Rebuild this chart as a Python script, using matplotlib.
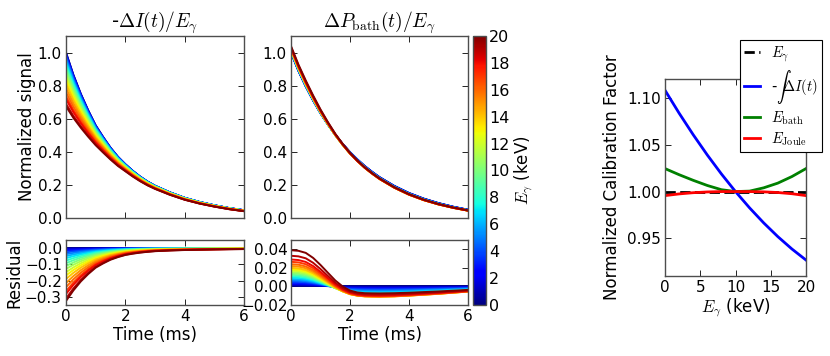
import numpy as np
import matplotlib
matplotlib.use("Agg")
import matplotlib.pyplot as plt
from matplotlib.cm import ScalarMappable
from matplotlib.colors import Normalize

# =========================
# データ
# =========================
energies_kev = [0, 1, 2, 3, 4, 5, 6, 7, 8, 9, 10,
                11, 12, 13, 14, 15, 16, 17, 18, 19, 20]

time_ms = [0.0, 0.25, 0.5, 0.75, 1.0, 1.25, 1.5, 1.75, 2.0, 2.25, 2.5,
           2.75, 3.0, 3.5, 4.0, 4.5, 5.0, 5.5, 6.0]

# -dI(t)/E : E=0 のパルス形状
di_base = [1.00, 0.865, 0.75, 0.65, 0.56, 0.49, 0.425, 0.37, 0.325, 0.285, 0.25,
           0.22, 0.195, 0.155, 0.122, 0.097, 0.077, 0.06, 0.047]
# 残差の時間形状 (t=0 で 1 に規格化)
di_resid_shape = [1.0, 0.80, 0.63, 0.49, 0.37, 0.29, 0.22, 0.17, 0.13, 0.105, 0.085,
                  0.07, 0.058, 0.045, 0.036, 0.03, 0.025, 0.021, 0.018]
# 各エネルギーでの t=0 の残差
di_resid_t0 = [0.0, -0.003, -0.009, -0.017, -0.026, -0.037, -0.049, -0.062, -0.077, -0.093, -0.110,
               -0.128, -0.148, -0.168, -0.190, -0.215, -0.240, -0.265, -0.282, -0.310, -0.325]

# dP_bath(t)/E : E=0 のパルス形状
pb_base = [1.0, 0.89, 0.795, 0.71, 0.633, 0.565, 0.503, 0.448, 0.398, 0.354, 0.314,
           0.279, 0.247, 0.194, 0.151, 0.117, 0.09, 0.068, 0.05]
# 残差: 初期の正の山と後半の負の谷
pb_hump_shape = [1.0, 0.99, 0.95, 0.83, 0.66, 0.47, 0.28, 0.14, 0.05, 0.01, 0.0,
                 0.0, 0.0, 0.0, 0.0, 0.0, 0.0, 0.0, 0.0]
pb_dip_shape = [0.0, 0.03, 0.12, 0.22, 0.35, 0.48, 0.60, 0.73, 0.85, 0.92, 0.97,
                0.99, 1.0, 0.97, 0.90, 0.81, 0.72, 0.61, 0.50]
pb_hump_t0 = [0.0, 0.0012, 0.0025, 0.0038, 0.0052, 0.0066, 0.008, 0.0095, 0.011, 0.0125, 0.014,
              0.0155, 0.017, 0.0185, 0.020, 0.022, 0.024, 0.0265, 0.029, 0.033, 0.039]
pb_dip_min = [0.0, -0.0005, -0.0015, -0.0025, -0.0035, -0.0047, -0.0058, -0.0068, -0.0078, -0.0087, -0.0094,
              -0.0100, -0.0105, -0.0108, -0.0110, -0.0110, -0.0108, -0.0104, -0.0098, -0.0088, -0.0075]

# 校正係数
calib_energy = [0, 2, 4, 6, 8, 10, 12, 14, 16, 18, 20]
calib_egamma = [1.0, 1.0, 1.0, 1.0, 1.0, 1.0, 1.0, 1.0, 1.0, 1.0, 1.0]
calib_int_di = [1.108, 1.0836, 1.0606, 1.039, 1.0188, 1.0, 0.9826, 0.9666, 0.952, 0.9388, 0.927]
calib_bath = [1.0245, 1.018, 1.012, 1.0065, 1.002, 1.0, 1.0005, 1.004, 1.009, 1.016, 1.0245]
calib_joule = [0.9957, 0.9975, 0.9988, 0.9996, 1.0, 1.0, 1.0, 0.9997, 0.999, 0.9977, 0.9957]

# =========================
# スタイル
# =========================
plt.rcParams["font.family"] = ["DejaVu Sans"]
plt.rcParams["mathtext.fontset"] = "cm"
plt.rcParams["font.size"] = 11
for ax_name in ["xtick", "ytick"]:
    plt.rcParams[f"{ax_name}.direction"] = "in"
    plt.rcParams[f"{ax_name}.major.size"] = 4
    plt.rcParams[f"{ax_name}.major.width"] = 0.6
    plt.rcParams[f"{ax_name}.labelsize"] = 11
plt.rcParams["xtick.top"] = True
plt.rcParams["ytick.right"] = True
plt.rcParams["axes.edgecolor"] = "0.3"
plt.rcParams["axes.linewidth"] = 1.0
plt.rcParams["xtick.major.pad"] = 3
plt.rcParams["ytick.major.pad"] = 3

W, H = 830, 356
fig = plt.figure(figsize=(W / 100, H / 100), dpi=100)


def box(x0, y0, x1, y1):
    return [x0 / W, 1 - y1 / H, (x1 - x0) / W, (y1 - y0) / H]


ax_di = fig.add_axes(box(66, 36, 244, 218))
ax_di_r = fig.add_axes(box(66, 240, 244, 305))
ax_pb = fig.add_axes(box(291, 36, 468, 218))
ax_pb_r = fig.add_axes(box(291, 240, 468, 305))
cax = fig.add_axes(box(473, 36, 486, 305))
ax_cal = fig.add_axes(box(665, 79, 806, 276))

cmap = plt.get_cmap("jet")
norm = Normalize(0, 20)
t = np.array(time_ms)

for i, e in enumerate(energies_kev):
    c = cmap(norm(e))
    r_di = di_resid_t0[i] * np.array(di_resid_shape)
    ax_di.plot(t, np.array(di_base) + r_di, color=c, lw=1.4)
    ax_di_r.plot(t, r_di, color=c, lw=1.4)

    r_pb = pb_hump_t0[i] * np.array(pb_hump_shape) + pb_dip_min[i] * np.array(pb_dip_shape)
    ax_pb.plot(t, np.array(pb_base) + r_pb, color=c, lw=1.4)
    ax_pb_r.plot(t, r_pb, color=c, lw=1.4)

for ax in [ax_di, ax_pb]:
    ax.set_xlim(0, 6)
    ax.set_ylim(0, 1.1)
    ax.set_yticks([0.0, 0.2, 0.4, 0.6, 0.8, 1.0])
    ax.set_xticks([0, 2, 4, 6])
    ax.set_xticklabels([])

for ax in [ax_di_r, ax_pb_r]:
    ax.set_xlim(0, 6)
    ax.set_xticks([0, 2, 4, 6])
    ax.set_xlabel("Time (ms)", fontsize=12, labelpad=1)

ax_di_r.set_ylim(-0.35, 0.05)
ax_di_r.set_yticks([-0.3, -0.2, -0.1, 0.0])
ax_pb_r.set_ylim(-0.02, 0.05)
ax_pb_r.set_yticks([-0.02, 0.0, 0.02, 0.04])
ax_pb_r.tick_params(axis="y", pad=2)

ax_di.set_title(r"-$\Delta I(t)/E_\gamma$", fontsize=14, pad=3)
ax_pb.set_title(r"$\Delta P_{\rm bath}(t)/E_\gamma$", fontsize=14, pad=3)
ax_di.set_ylabel("Normalized signal", fontsize=12, labelpad=1)
ax_di_r.set_ylabel("Residual", fontsize=12, labelpad=1)

# カラーバー
sm = ScalarMappable(norm=norm, cmap=cmap)
cb = fig.colorbar(sm, cax=cax, ticks=list(range(0, 21, 2)))
cb.outline.set_edgecolor("0.3")
cb.ax.tick_params(labelsize=11.5, length=0, pad=2)
cb.set_label(r"$E_\gamma$ (keV)", fontsize=12, labelpad=2)

# 校正係数プロット
ax_cal.plot(calib_energy, calib_egamma, "k--", lw=2, label=r"$E_\gamma$")
ax_cal.plot(calib_energy, calib_int_di, color="blue", lw=2, label=r"-$\int\!\Delta I(t)$")
ax_cal.plot(calib_energy, calib_bath, color="green", lw=2, label=r"$E_{\rm bath}$")
ax_cal.plot(calib_energy, calib_joule, color="red", lw=2, label=r"$E_{\rm Joule}$")
ax_cal.set_xlim(0, 20)
ax_cal.set_ylim(0.91, 1.12)
ax_cal.set_xticks([0, 5, 10, 15, 20])
ax_cal.set_yticks([0.95, 1.00, 1.05, 1.10])
ax_cal.set_yticklabels(["0.95", "1.00", "1.05", "1.10"])
ax_cal.set_xlabel(r"$E_\gamma$ (keV)", fontsize=12, labelpad=1)
ax_cal.set_ylabel("Normalized Calibration Factor", fontsize=12, labelpad=4)
leg = ax_cal.legend(loc="upper right", bbox_to_anchor=(1.113, 1.198), fontsize=10.5,
                    fancybox=False, framealpha=1, edgecolor="black",
                    handlelength=1.1, handletextpad=0.7, borderpad=0.3,
                    labelspacing=0.25, borderaxespad=0)
leg.get_frame().set_linewidth(0.8)

fig.savefig("out.png", dpi=100)
